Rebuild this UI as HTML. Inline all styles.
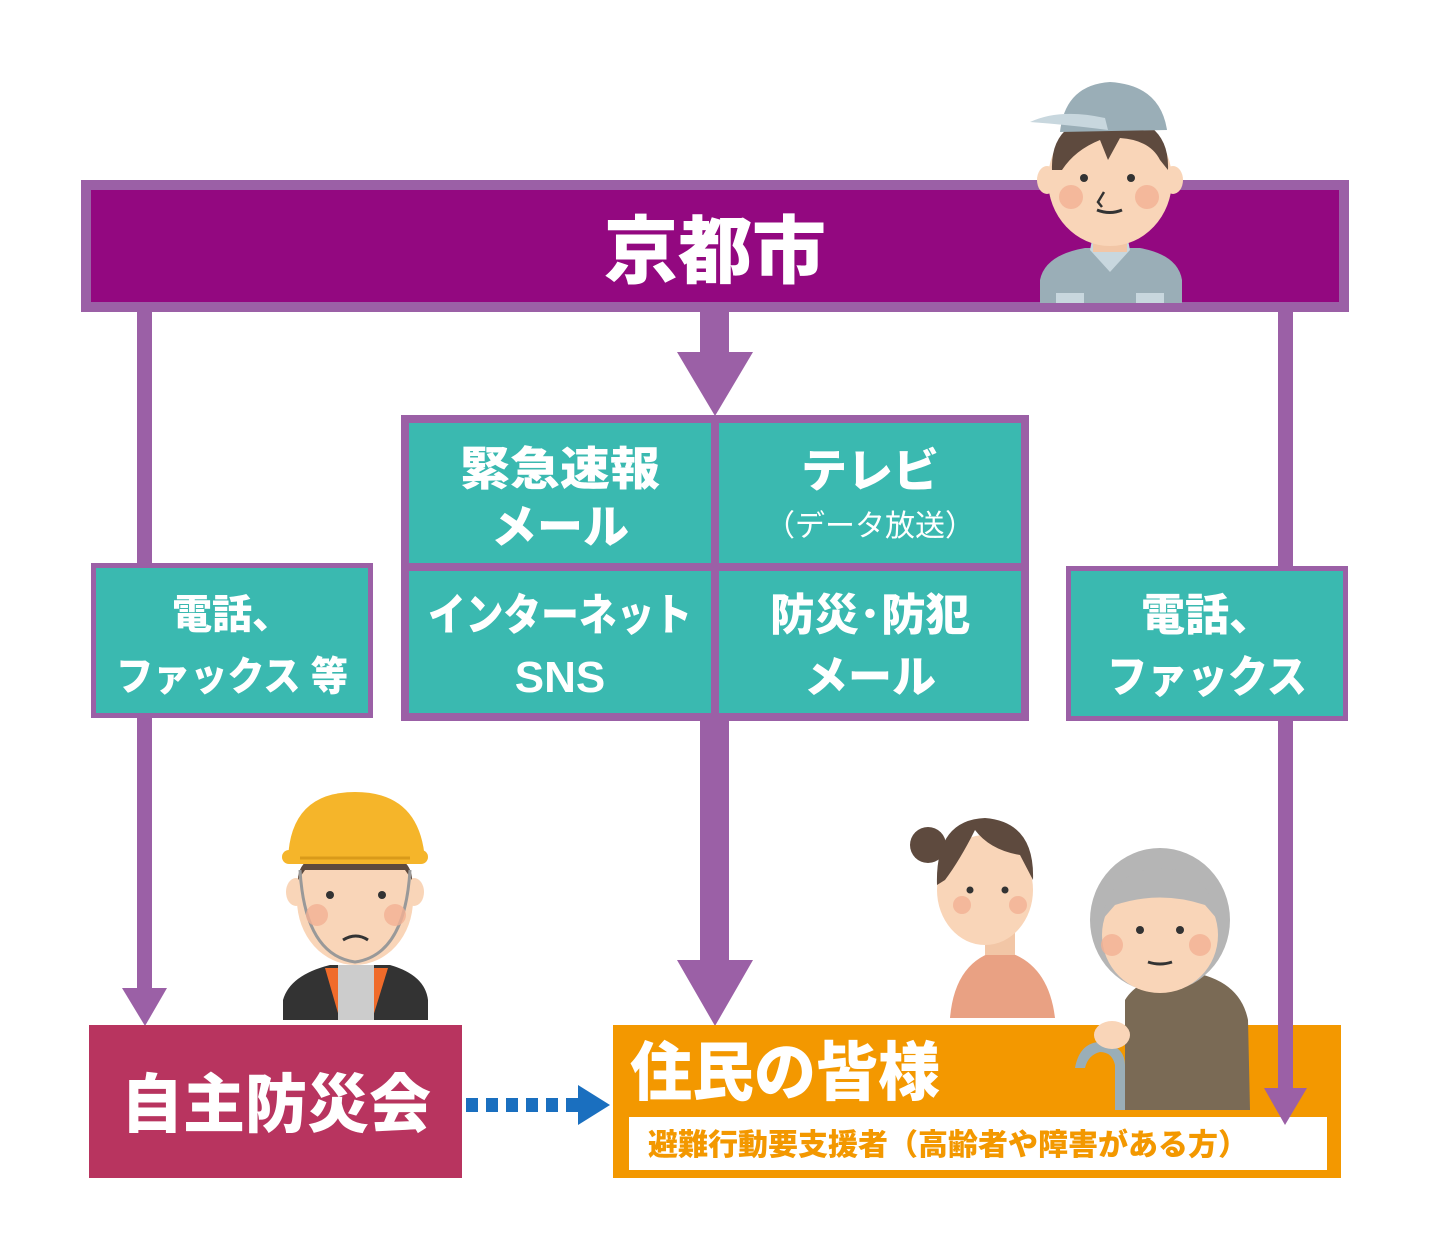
<!DOCTYPE html>
<html><head><meta charset="utf-8"><style>
html,body{margin:0;padding:0;background:#fff}
svg text{font-family:"Liberation Sans","Noto Sans CJK JP",sans-serif;font-weight:900}
</style></head><body>
<svg width="1432" height="1254" viewBox="0 0 1432 1254" xmlns="http://www.w3.org/2000/svg">
<!-- connectors -->
<rect x="137" y="305" width="15" height="690" fill="#9b60a6"/>
<polygon points="122,988 167,988 145,1026" fill="#9b60a6"/>
<rect x="1278" y="305" width="15" height="790" fill="#9b60a6"/>
<rect x="700" y="305" width="29" height="55" fill="#9b60a6"/>
<polygon points="677,352 753,352 715,416" fill="#9b60a6"/>
<rect x="700" y="715" width="29" height="250" fill="#9b60a6"/>
<polygon points="677,960 753,960 715,1026" fill="#9b60a6"/>

<!-- header -->
<rect x="81" y="180" width="1268" height="132" fill="#9b60a6"/>
<rect x="91" y="190" width="1248" height="112" fill="#930880"/>
<text x="715" y="277" font-size="74" fill="#fff" text-anchor="middle">京都市</text>

<!-- worker top right -->
<g>
<path d="M1040,303 L1040,280 Q1045,255 1085,248 L1140,248 Q1178,255 1182,280 L1182,303 Z" fill="#9aaeb7"/>
<path d="M1090,250 L1110,272 L1130,250 L1128,240 L1092,240 Z" fill="#c8d7de"/>
<rect x="1056" y="293" width="28" height="10" fill="#c8d7de"/>
<rect x="1136" y="293" width="28" height="10" fill="#c8d7de"/>
<rect x="1093" y="230" width="34" height="22" fill="#f2c6a6"/>
<ellipse cx="1047" cy="180" rx="10" ry="14" fill="#f9d5b8"/>
<ellipse cx="1173" cy="180" rx="10" ry="14" fill="#f9d5b8"/>
<ellipse cx="1110" cy="180" rx="62" ry="66" fill="#f9d5b8"/>
<path d="M1052,170 Q1050,118 1110,115 Q1170,118 1168,170 L1160,160 Q1150,140 1120,138 L1108,160 L1100,140 Q1075,150 1062,170 Z" fill="#5e4a3e"/>
<path d="M1060,132 Q1065,85 1110,82 Q1160,85 1167,130 Z" fill="#9aaeb7"/>
<path d="M1030,122 Q1060,108 1105,118 L1108,130 Q1070,125 1030,122 Z" fill="#c8d7de"/>
<circle cx="1084" cy="178" r="4" fill="#333"/><circle cx="1131" cy="178" r="4" fill="#333"/>
<circle cx="1071" cy="197" r="12" fill="#f3b093" opacity=".8"/><circle cx="1147" cy="197" r="12" fill="#f3b093" opacity=".8"/>
<path d="M1097,210 Q1110,215 1122,210" stroke="#333" stroke-width="3" fill="none"/>
<path d="M1104,192 L1098,202 L1102,207" stroke="#333" stroke-width="2.5" fill="none"/>
</g>

<!-- left box -->
<rect x="91" y="563" width="282" height="155" fill="#9b60a6"/>
<rect x="96" y="568" width="272" height="145" fill="#3ab9b0"/>
<text x="232" y="628" font-size="40" fill="#fff" text-anchor="middle">電話、</text>
<text x="232" y="690" font-size="40" fill="#fff" text-anchor="middle" textLength="232" lengthAdjust="spacingAndGlyphs">ファックス 等</text>

<!-- center grid -->
<rect x="401" y="415" width="628" height="306" fill="#9b60a6"/>
<rect x="409" y="423" width="302" height="140" fill="#3ab9b0"/>
<rect x="719" y="423" width="302" height="140" fill="#3ab9b0"/>
<rect x="409" y="571" width="302" height="142" fill="#3ab9b0"/>
<rect x="719" y="571" width="302" height="142" fill="#3ab9b0"/>
<text x="560" y="485" font-size="46" fill="#fff" text-anchor="middle" textLength="200" lengthAdjust="spacingAndGlyphs">緊急速報</text>
<text x="560" y="543" font-size="46" fill="#fff" text-anchor="middle">メール</text>
<text x="870" y="487" font-size="46" fill="#fff" text-anchor="middle">テレビ</text>
<text x="870" y="536" font-size="30" fill="#fff" text-anchor="middle" style="font-weight:400">（データ放送）</text>
<text x="560" y="630" font-size="44" fill="#fff" text-anchor="middle" textLength="264" lengthAdjust="spacingAndGlyphs">インターネット</text>
<text x="560" y="692" font-size="44" fill="#fff" text-anchor="middle">SNS</text>
<text x="870" y="630" font-size="44" fill="#fff" text-anchor="middle" textLength="200" lengthAdjust="spacingAndGlyphs">防災･防犯</text>
<text x="870" y="692" font-size="44" fill="#fff" text-anchor="middle">メール</text>

<!-- right box -->
<rect x="1066" y="566" width="282" height="155" fill="#9b60a6"/>
<rect x="1071" y="571" width="272" height="145" fill="#3ab9b0"/>
<text x="1207" y="630" font-size="44" fill="#fff" text-anchor="middle">電話、</text>
<text x="1207" y="692" font-size="44" fill="#fff" text-anchor="middle" textLength="200" lengthAdjust="spacingAndGlyphs">ファックス</text>

<!-- construction worker -->
<g>
<path d="M283,1020 L283,1000 Q290,975 330,965 L390,965 Q425,975 428,1000 L428,1020 Z" fill="#333"/>
<path d="M325,968 L340,1020 L372,1020 L388,968 Z" fill="#f06b2a"/>
<rect x="338" y="965" width="36" height="55" fill="#ccc"/>
<ellipse cx="296" cy="892" rx="10" ry="14" fill="#f9d5b8"/>
<ellipse cx="414" cy="892" rx="10" ry="14" fill="#f9d5b8"/>
<ellipse cx="355" cy="900" rx="58" ry="65" fill="#f9d5b8"/>
<path d="M298,880 Q298,850 355,848 Q412,850 412,880 L405,870 L305,870 Z" fill="#5e4a3e"/>
<path d="M288,860 Q290,792 355,792 Q420,792 425,860 Z" fill="#f5b52a"/>
<rect x="282" y="850" width="146" height="14" rx="7" fill="#f5b52a"/>
<path d="M300,858 L410,858" stroke="#d99a1a" stroke-width="3"/>
<path d="M300,870 Q305,955 355,962 Q405,955 410,870" stroke="#999" stroke-width="3" fill="none"/>
<circle cx="330" cy="895" r="4" fill="#333"/><circle cx="382" cy="895" r="4" fill="#333"/>
<circle cx="317" cy="915" r="11" fill="#f3b093" opacity=".8"/><circle cx="395" cy="915" r="11" fill="#f3b093" opacity=".8"/>
<path d="M343,940 Q356,932 368,940" stroke="#333" stroke-width="3" fill="none"/>
</g>

<!-- woman -->
<g>
<path d="M950,1018 Q955,960 1000,950 Q1048,960 1055,1018 Z" fill="#e9a183"/>
<rect x="985" y="930" width="30" height="25" fill="#f2c6a6"/>
<circle cx="928" cy="845" r="18" fill="#5e4a3e"/>
<ellipse cx="985" cy="890" rx="48" ry="55" fill="#f9d5b8"/>
<path d="M937,885 Q935,820 985,818 Q1035,822 1033,880 L1020,855 Q990,850 975,830 Q960,860 945,880 Z" fill="#5e4a3e"/>
<circle cx="970" cy="890" r="3.5" fill="#333"/><circle cx="1005" cy="890" r="3.5" fill="#333"/>
<circle cx="962" cy="905" r="9" fill="#f3b093" opacity=".8"/><circle cx="1018" cy="905" r="9" fill="#f3b093" opacity=".8"/>
</g>

<!-- bottom boxes -->
<rect x="89" y="1025" width="373" height="153" fill="#b8345f"/>
<text x="276" y="1127" font-size="64" fill="#fff" text-anchor="middle" textLength="310" lengthAdjust="spacingAndGlyphs">自主防災会</text>
<g fill="#1a6fbf">
<rect x="466" y="1098" width="12" height="14"/><rect x="486" y="1098" width="12" height="14"/>
<rect x="506" y="1098" width="12" height="14"/><rect x="526" y="1098" width="12" height="14"/>
<rect x="546" y="1098" width="12" height="14"/><rect x="566" y="1098" width="12" height="14"/>
<polygon points="578,1085 610,1105 578,1125"/>
</g>
<rect x="613" y="1025" width="728" height="153" fill="#f39800"/>
<rect x="629" y="1117" width="698" height="53" fill="#fff"/>
<text x="630" y="1095" font-size="64" fill="#fff" textLength="310" lengthAdjust="spacingAndGlyphs">住民の皆様</text>
<text x="648" y="1155" font-size="30" fill="#f39800">避難行動要支援者（高齢者や障害がある方）</text>

<!-- elder -->
<g>
<path d="M1125,1110 L1125,1000 Q1140,975 1190,972 Q1240,980 1248,1020 L1250,1110 Z" fill="#7a6a55"/>
<ellipse cx="1160" cy="920" rx="70" ry="72" fill="#b5b5b5"/>
<ellipse cx="1160" cy="935" rx="58" ry="58" fill="#f9d5b8"/>
<path d="M1102,920 Q1110,870 1160,868 Q1210,870 1218,920 L1205,905 Q1160,890 1115,905 Z" fill="#b5b5b5"/>
<circle cx="1140" cy="930" r="4" fill="#333"/><circle cx="1180" cy="930" r="4" fill="#333"/>
<circle cx="1112" cy="945" r="11" fill="#f3b093" opacity=".8"/><circle cx="1200" cy="945" r="11" fill="#f3b093" opacity=".8"/>
<path d="M1148,962 Q1160,966 1172,962" stroke="#333" stroke-width="3" fill="none"/>
<path d="M1075,1068 Q1080,1040 1105,1042 Q1125,1048 1125,1065 L1125,1110 L1115,1110 L1115,1065 Q1112,1052 1100,1052 Q1088,1055 1085,1068 Z" fill="#9aaeb7"/>
<ellipse cx="1112" cy="1035" rx="18" ry="14" fill="#f9d5b8"/>
</g>

<!-- right connector tail on top of orange box -->
<rect x="1278" y="1020" width="15" height="75" fill="#9b60a6"/>
<polygon points="1264,1088 1307,1088 1285,1125" fill="#9b60a6"/>
</svg>
</body></html>
